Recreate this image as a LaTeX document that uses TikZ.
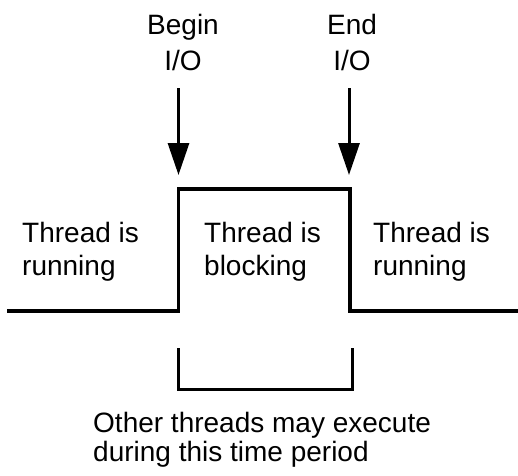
\documentclass[tikz,border=0pt]{standalone}
\usepackage{fontspec}
\setmainfont{Liberation Sans}
\usetikzlibrary{arrows.meta}

\begin{document}
\begin{tikzpicture}[x=1pt,y=-1pt,
    lbl/.style={font=\fontsize{28}{33}\selectfont, inner sep=0pt, align=left, anchor=base west},
    toplbl/.style={font=\fontsize{28}{36}\selectfont, inner sep=0pt, align=center, anchor=base},
    ioarrow/.style={line width=3pt, -{Triangle[length=32pt,width=21pt]}, shorten >=14pt}]
    \useasboundingbox (0,0) rectangle (518,475);

    % signal level
    \coordinate (w0) at (7,311);
    \coordinate (w1) at (178.5,311);
    \coordinate (w2) at (178.5,189);
    \coordinate (w3) at (350,189);
    \coordinate (w4) at (350,311);
    \coordinate (w5) at (518,311);
    \draw[line width=3.5pt] (w0) -- (w1) -- (w2) -- (w3) -- (w4) -- (w5);

    % I/O events (base = last line)
    \node[toplbl] (beginio) at (183,70) {Begin\\I/O};
    \node[toplbl] (endio) at (352,70) {End\\I/O};
    \coordinate (a1) at (178.5,88);
    \coordinate (a2) at (349,88);
    \draw[ioarrow] (a1) -- (a1 |- w2);
    \draw[ioarrow] (a2) -- (a2 |- w3);

    \node[lbl] (run1) at (22,275) {Thread is\\running};
    \node[lbl] (block) at (204,275) {Thread is\\blocking};
    \node[lbl] (run2) at (373,275) {Thread is\\running};

    % other threads
    \draw[line width=3pt] (178.5,348) -- (178.5,389) -- (352,389) -- (352,348);
    \node[lbl, font=\fontsize{28}{29}\selectfont] (other) at (93,461) {Other threads may execute\\during this time period};
\end{tikzpicture}
\end{document}
